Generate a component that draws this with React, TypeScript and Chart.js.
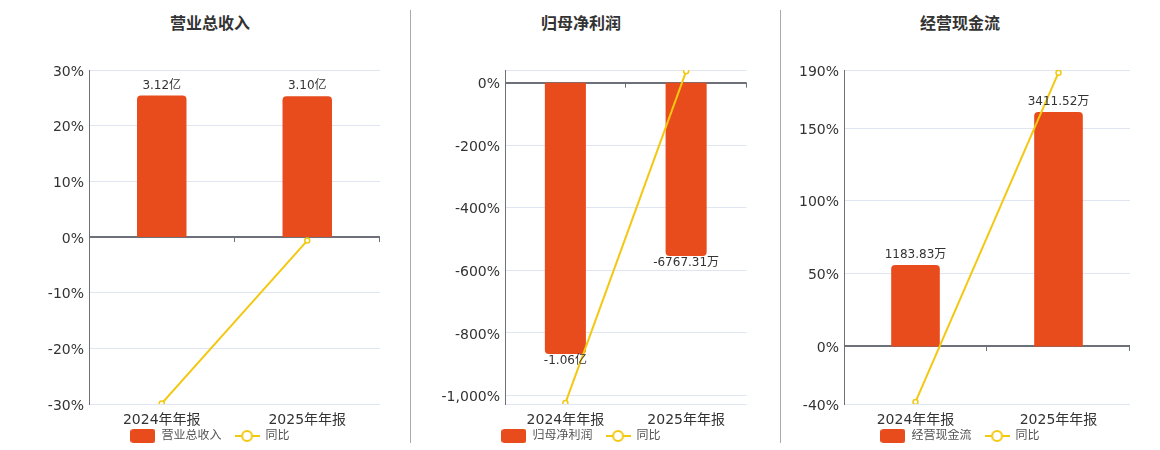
import React, { useRef, useEffect } from 'react';
import { Chart, registerables } from 'chart.js';

Chart.register(...registerables);

const FONT = "'DejaVu Sans', 'Noto Sans CJK SC', sans-serif";
const BAR_COLOR = '#E84B1C';
const LINE_COLOR = '#F2C811';

const categories = ['2024年年报', '2025年年报'];

// 营业总收入（万元）
const revenueValues = [31200, 31000];
const revenueYoy = [-29.9, -0.64];
const revenueTicks = [-30, -20, -10, 0, 10, 20, 30];

// 归母净利润（万元）
const profitValues = [-10600, -6767.31];
const profitYoy = [-1024, 36.2];
const profitTicks = [-1000, -800, -600, -400, -200, 0];

// 经营现金流（万元）
const cashValues = [1183.83, 3411.52];
const cashYoy = [-38.6, 188.18];
const cashTicks = [-40, 0, 50, 100, 150, 190];

const formatAmount = (v: number) =>
  Math.abs(v) >= 10000 ? (v / 10000).toFixed(2) + '亿' : v.toFixed(2) + '万';

const formatPct = (v: number) => v.toLocaleString('en-US') + '%';

// 图例图标
const makeBarIcon = () => {
  const c = document.createElement('canvas');
  c.width = 25;
  c.height = 14;
  const ctx = c.getContext('2d')!;
  ctx.fillStyle = BAR_COLOR;
  ctx.beginPath();
  ctx.roundRect(0, 0, 25, 14, 3);
  ctx.fill();
  return c;
};

const makeLineIcon = () => {
  const c = document.createElement('canvas');
  c.width = 25;
  c.height = 14;
  const ctx = c.getContext('2d')!;
  ctx.strokeStyle = LINE_COLOR;
  ctx.lineWidth = 2;
  ctx.beginPath();
  ctx.moveTo(0, 7);
  ctx.lineTo(25, 7);
  ctx.stroke();
  ctx.fillStyle = '#fff';
  ctx.beginPath();
  ctx.arc(12.5, 7, 5, 0, Math.PI * 2);
  ctx.fill();
  ctx.stroke();
  return c;
};

// 零轴上的刻度 + 柱子数值标签
const decorPlugin = {
  id: 'decor',
  afterDatasetsDraw(chart: any) {
    const { ctx, chartArea } = chart;
    const y = chart.scales.y;
    const zeroY = y.getPixelForValue(0);
    const step = (chartArea.right - chartArea.left) / categories.length;
    ctx.save();
    ctx.strokeStyle = '#6E7079';
    ctx.lineWidth = 1;
    for (let i = 1; i <= categories.length; i++) {
      const px = Math.round(chartArea.left + step * i) - 0.5;
      ctx.beginPath();
      ctx.moveTo(px, zeroY);
      ctx.lineTo(px, zeroY + 5);
      ctx.stroke();
    }

    const meta = chart.getDatasetMeta(1);
    const values = chart.data.datasets[1].data as number[];
    ctx.fillStyle = '#333';
    ctx.font = `12px ${FONT}`;
    ctx.textAlign = 'center';
    meta.data.forEach((el: any, i: number) => {
      const v = values[i];
      if (v >= 0) {
        ctx.textBaseline = 'bottom';
        ctx.fillText(formatAmount(v), el.x, el.y - 4);
      } else {
        ctx.textBaseline = 'top';
        ctx.fillText(formatAmount(v), el.x, el.y + 1);
      }
    });
    ctx.restore();
  },
};

interface PanelProps {
  title: string;
  seriesName: string;
  values: number[];
  yoy: number[];
  ticks: number[];
  pctMin: number;
  pctMax: number;
  barMin: number;
  barMax: number;
  left: number;
  width: number;
  axisWidth: number;
  pad: number;
}

const Panel: React.FC<PanelProps> = (p) => {
  const chartRef = useRef<HTMLCanvasElement>(null);
  const chartInstance = useRef<Chart | null>(null);

  useEffect(() => {
    if (!chartRef.current) return;
    if (chartInstance.current) chartInstance.current.destroy();

    const barIcon = makeBarIcon();
    const lineIcon = makeLineIcon();

    chartInstance.current = new Chart(chartRef.current, {
      type: 'bar',
      data: {
        labels: categories,
        datasets: [
          {
            type: 'line',
            label: '同比',
            data: p.yoy,
            yAxisID: 'y',
            borderColor: LINE_COLOR,
            borderWidth: 2,
            pointRadius: 2.5,
            pointBackgroundColor: '#fff',
            pointBorderColor: LINE_COLOR,
            pointBorderWidth: 1.5,
            tension: 0,
          } as any,
          {
            type: 'bar',
            label: p.seriesName,
            data: p.values,
            yAxisID: 'yBar',
            backgroundColor: BAR_COLOR,
            borderRadius: 4,
            borderSkipped: 'start',
            barPercentage: 0.34,
            categoryPercentage: 1,
          },
        ],
      },
      options: {
        responsive: true,
        maintainAspectRatio: false,
        animation: false,
        layout: {
          padding: { top: 10, right: p.pad, left: p.pad, bottom: -2 },
        },
        plugins: {
          tooltip: { enabled: false },
          legend: {
            position: 'bottom',
            labels: {
              usePointStyle: true,
              pointStyleWidth: 25,
              padding: 1,
              color: '#555',
              font: { size: 12, family: FONT },
              // 第一项末尾的全角空格用来拉开两项之间的距离
              generateLabels: () => [
                {
                  text: p.seriesName + '\u2003',
                  pointStyle: barIcon,
                  fontColor: '#555',
                  hidden: false,
                  datasetIndex: 1,
                  lineWidth: 0,
                },
                {
                  text: '同比',
                  pointStyle: lineIcon,
                  fontColor: '#555',
                  hidden: false,
                  datasetIndex: 0,
                  lineWidth: 0,
                },
              ] as any,
            },
          },
        },
        scales: {
          x: {
            grid: { display: false, drawTicks: false },
            border: { display: false },
            afterFit: (scale: any) => {
              scale.height = 25;
            },
            ticks: {
              color: '#333',
              padding: 8,
              font: { size: 14, family: FONT },
            },
          },
          y: {
            position: 'left',
            min: p.pctMin,
            max: p.pctMax,
            afterBuildTicks: (scale: any) => {
              const vals = Array.from(new Set([p.pctMin, ...p.ticks, p.pctMax])).sort((a, b) => a - b);
              scale.ticks = vals.map((v) => ({ value: v }));
            },
            afterFit: (scale: any) => {
              scale.width = p.axisWidth;
              scale.paddingTop = 0;
              scale.paddingBottom = 0;
            },
            border: { display: true, color: '#6E7079', width: 1 },
            grid: {
              drawTicks: false,
              color: (ctx: any) => (ctx.tick && ctx.tick.value === 0 ? '#6E7079' : '#E0E6F1'),
              lineWidth: (ctx: any) => (ctx.tick && ctx.tick.value === 0 ? 2 : 1),
            },
            ticks: {
              color: '#333',
              padding: 5,
              labelOffset: 2,
              font: { size: 14, family: FONT },
              callback: (value: any) => (p.ticks.includes(Number(value)) ? formatPct(Number(value)) : ''),
            },
          },
          yBar: {
            display: false,
            min: p.barMin,
            max: p.barMax,
          },
        },
      },
      plugins: [decorPlugin],
    });

    return () => {
      if (chartInstance.current) {
        chartInstance.current.destroy();
        chartInstance.current = null;
      }
    };
  }, []);

  return (
    <>
      <div
        style={{
          position: 'absolute',
          left: p.left,
          width: p.width,
          top: 10,
          textAlign: 'center',
          fontFamily: "'Noto Sans CJK SC', sans-serif",
          fontWeight: 'bold',
          fontSize: 16,
          color: '#333',
        }}
      >
        {p.title}
      </div>
      <div style={{ position: 'absolute', left: p.left, width: p.width, top: 60, height: 390 }}>
        <canvas ref={chartRef} />
      </div>
    </>
  );
};

export default function App() {
  useEffect(() => {
    document.body.style.margin = '0';
  }, []);

  return (
    <div style={{ position: 'relative', width: 1160, height: 450, background: '#fff', overflow: 'hidden' }}>
      <Panel
        title="营业总收入"
        seriesName="营业总收入"
        values={revenueValues}
        yoy={revenueYoy}
        ticks={revenueTicks}
        pctMin={-30}
        pctMax={30}
        barMin={-36800}
        barMax={36800}
        left={10}
        width={400}
        axisWidth={49}
        pad={30}
      />
      <div style={{ position: 'absolute', left: 410, top: 10, width: 1, height: 433, background: '#aaa' }} />
      <Panel
        title="归母净利润"
        seriesName="归母净利润"
        values={profitValues}
        yoy={profitYoy}
        ticks={profitTicks}
        pctMin={-1027}
        pctMax={40.5}
        barMin={-12550}
        barMax={497}
        left={410}
        width={342}
        axisWidth={93}
        pad={2}
      />
      <div style={{ position: 'absolute', left: 780, top: 10, width: 1, height: 433, background: '#aaa' }} />
      <Panel
        title="经营现金流"
        seriesName="经营现金流"
        values={cashValues}
        yoy={cashYoy}
        ticks={cashTicks}
        pctMin={-40}
        pctMax={190}
        barMin={-838}
        barMax={4022}
        left={780}
        width={360}
        axisWidth={54}
        pad={10}
      />
    </div>
  );
}
